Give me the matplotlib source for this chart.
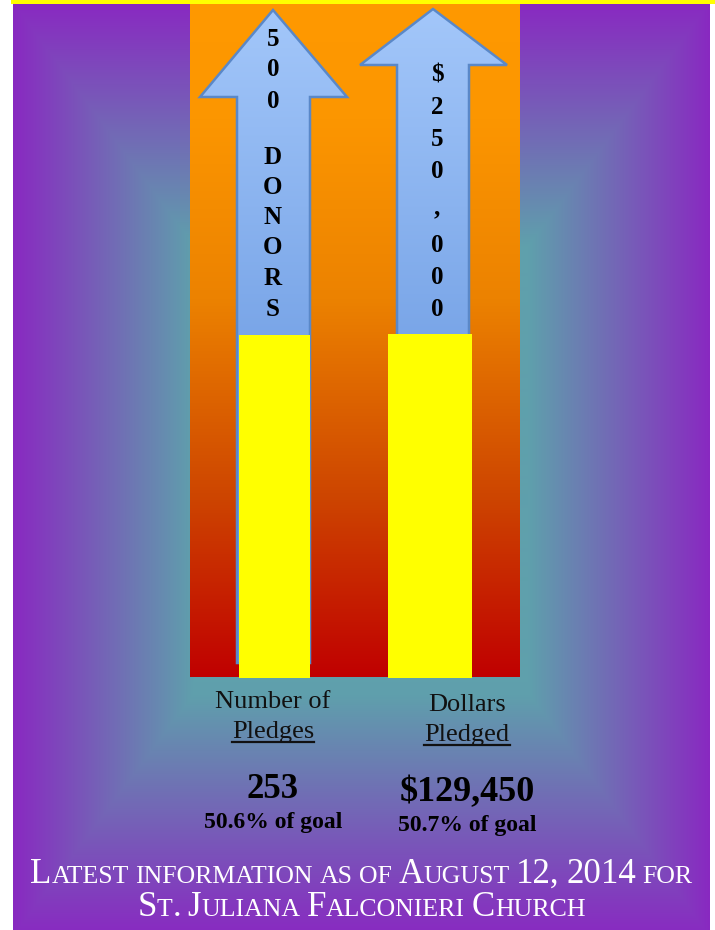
import numpy as np
import matplotlib
matplotlib.use("Agg")
import matplotlib.pyplot as plt
from matplotlib.patches import Polygon, Rectangle

W, H = 715, 930

# chart data
top_labels = ["Number of", "Dollars"]
under_labels = ["Pledges", "Pledged"]
goal_text = ["500 DONORS", "$250,000"]
totals = ["253", "$129,450"]
pct_goal = [50.6, 50.7]
footer = ["Latest information as of August 12, 2014 for",
          "St. Juliana Falconieri Church"]

SERIF = "Liberation Serif"


def rgb(*c):
    return np.array(c) / 255.0


fig = plt.figure(figsize=(W / 100, H / 100), dpi=100, facecolor="white")

# ---- background layer (pixel coords, y down)
ax = fig.add_axes([0, 0, 1, 1])
ax.axis("off")

yy, xx = np.mgrid[4:H, 13:710] + 0.5
t = np.maximum(np.abs(xx - 361.5) / 348.5, np.abs(yy - 470) / 466)
s = np.clip((t - 0.48) / 0.52, 0, 1)[..., None]
teal, purple = rgb(95, 160, 172), rgb(137, 41, 193)
ax.imshow(teal + (purple - teal) * s, extent=[13, 710, H, 4], aspect="auto",
          interpolation="bilinear")

ax.add_patch(Rectangle((11, 0), W - 11, 4.5, color="#ffff00", lw=0))

# orange -> red column
ys = np.arange(4, 677) + 0.5
stops = [4, 120, 300, 500, 677]
col = np.stack([np.interp(ys, stops, [255, 252, 236, 205, 192]),
                np.interp(ys, stops, [153, 150, 130, 68, 0]),
                np.zeros_like(ys)], axis=1) / 255
ax.imshow(col[:, None, :].repeat(2, axis=1), extent=[190, 520, 677, 4],
          aspect="auto", interpolation="bilinear")

# goal arrows
arrows = [
    [(273, 10), (347, 97), (310, 97), (310, 663), (237, 663), (237, 97), (200, 97)],
    [(433, 9), (507, 65), (469, 65), (469, 663), (397, 663), (397, 65), (360, 65)],
]
ay = np.arange(9, 664) + 0.5
agrad = np.stack([np.interp(ay, [9, 335, 663], [163, 122, 100]),
                  np.interp(ay, [9, 335, 663], [199, 166, 150]),
                  np.interp(ay, [9, 335, 663], [250, 232, 225])], axis=1) / 255
for pts in arrows:
    poly = Polygon(pts, closed=True, facecolor="none", edgecolor="#5a88c8",
                   lw=1.8, zorder=3)
    ax.add_patch(poly)
    xs = [p[0] for p in pts]
    im = ax.imshow(agrad[:, None, :].repeat(2, axis=1),
                   extent=[min(xs), max(xs), 663, 9], aspect="auto", zorder=2)
    im.set_clip_path(poly)

ax.set_xlim(0, W)
ax.set_ylim(H, 0)

# ---- bars (percent of goal)
ax_b = fig.add_axes([0, (H - 678) / H, 1, 678 / H])
ax_b.axis("off")
ax_b.patch.set_visible(False)
ax_b.bar([274.5, 430], pct_goal, width=[71, 84], color="#ffff00", lw=0)
ax_b.set_xlim(0, W)
ax_b.set_ylim(0, 100)

# ---- text layer
ax_t = fig.add_axes([0, 0, 1, 1])
ax_t.axis("off")
ax_t.patch.set_visible(False)
ax_t.set_xlim(0, W)
ax_t.set_ylim(H, 0)
rend = fig.canvas.get_renderer()

# vertical letters in the arrows
left_y = [37, 68, 99, None, 155, 185, 215, 245, 276, 307]
right_y = [73, 105, 137, 170, 206, 243, 275, 307]
for txt, xs_, ylist in [(goal_text[0], 273, left_y), (goal_text[1], 437, right_y)]:
    for ch, yc in zip(txt, ylist):
        if ch == " " or yc is None:
            continue
        ax_t.text(xs_, yc + 8.5, ch, ha="center", va="baseline", fontsize=18,
                  fontweight="bold", family=SERIF, color="black")

# labels under the bars
for xc, top, und, tot, pct, yb in zip([273, 467], top_labels, under_labels,
                                      totals, pct_goal, [0, 3]):
    ax_t.text(xc, 708 + yb, top, ha="center", va="baseline", fontsize=19,
              family=SERIF, color="#111111")
    u = ax_t.text(xc, 738 + yb, und, ha="center", va="baseline", fontsize=19,
                  family=SERIF, color="#111111")
    bb = u.get_window_extent(rend)
    ax_t.plot([bb.x0, bb.x1], [742 + yb, 742 + yb], color="#111111", lw=1.6)
    ax_t.text(xc, 798 + yb, tot, ha="center", va="baseline",
              fontsize=25 if len(tot) < 5 else 26, fontweight="bold",
              family=SERIF, color="black")
    ax_t.text(xc, 828 + yb, f"{pct}% of goal", ha="center", va="baseline",
              fontsize=17, fontweight="bold", family=SERIF, color="black")


# footer in small caps
def text_width(s, size):
    tt = ax_t.text(0, 0, s, fontsize=size, family=SERIF)
    w = tt.get_window_extent(rend).width
    tt.remove()
    return w


def runs_of(s, big, small):
    out = []
    for word in s.split(" "):
        parts = []
        for ch in word:
            low = ch.islower()
            if parts and parts[-1][1] == low:
                parts[-1][0] += ch
            else:
                parts.append([ch, low])
        out.append([(p.upper(), small if low else big) for p, low in parts])
    return out


def layout(s, big, ratio):
    small = big * ratio
    words = runs_of(s, big, small)
    sp = text_width("x x", small) - text_width("xx", small)
    items, x = [], 0.0
    for i, w in enumerate(words):
        if i:
            x += sp
        for piece, size in w:
            items.append((x, piece, size))
            x += text_width(piece, size)
    return items, x


ratio = 0.74
items, w0 = layout(footer[0], 20, ratio)
big = 20 * 661 / w0
for line, yb in zip(footer, [883, 916]):
    items, wl = layout(line, big, ratio)
    x0 = W / 2 + 4 - wl / 2
    for x, piece, size in items:
        ax_t.text(x0 + x, yb, piece, fontsize=size, family=SERIF,
                  color="white", ha="left", va="baseline")

fig.savefig("out.png", dpi=100, facecolor="white")
